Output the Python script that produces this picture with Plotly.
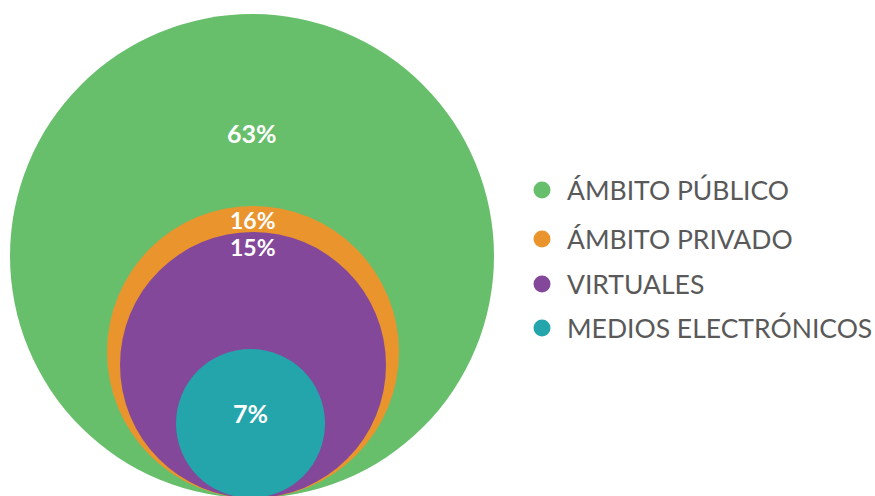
import plotly.graph_objects as go

# ---- data ----
categories = ["ÁMBITO PÚBLICO", "ÁMBITO PRIVADO", "VIRTUALES", "MEDIOS ELECTRÓNICOS"]
values = [63, 16, 15, 7]
value_labels = [f"{v}%" for v in values]

# ---- styles / layout constants ----
colors = ["#67BF6B", "#EA942D", "#84489A", "#23A5AB"]
radii = [242, 146, 133, 74.5]
centers_x = [252, 253, 253, 250.5]
base_y = 498  # all circles tangent at the bottom
label_y = [133, 220, 247, 413]
label_sizes = [25, 23, 23, 25]
W, H = 875, 496

fig = go.Figure()

shapes = []
for r, cx, c in zip(radii, centers_x, colors):
    cy = base_y - r
    shapes.append(dict(type="circle", xref="x", yref="y",
                       x0=cx - r, x1=cx + r, y0=cy - r, y1=cy + r,
                       fillcolor=c, line=dict(width=0), layer="below"))

annotations = []
for lab, cx, ly, fs in zip(value_labels, centers_x, label_y, label_sizes):
    annotations.append(dict(x=cx, y=ly, xref="x", yref="y", text=f"<b>{lab}</b>",
                            showarrow=False, font=dict(family="Lato", size=fs, color="white")))

legend_y = [190, 239, 284, 328]
for cat, c, ly in zip(categories, colors, legend_y):
    annotations.append(dict(x=565, y=ly, xref="x", yref="y", text=cat, xanchor="left",
                            showarrow=False, font=dict(family="Lato", size=26.5, color="#595959")))

fig.add_trace(go.Scatter(x=[542] * len(categories), y=legend_y, mode="markers",
                         marker=dict(size=17, color=colors), hoverinfo="skip",
                         showlegend=False))

fig.update_layout(
    width=W, height=H,
    margin=dict(l=0, r=0, t=0, b=0),
    paper_bgcolor="white", plot_bgcolor="white",
    shapes=shapes, annotations=annotations,
    xaxis=dict(range=[0, W], visible=False, fixedrange=True),
    yaxis=dict(range=[H, 0], visible=False, fixedrange=True),
    showlegend=False,
)

fig.write_html("out.html", config={"displayModeBar": False},
               post_script="document.body.style.margin='0';")
